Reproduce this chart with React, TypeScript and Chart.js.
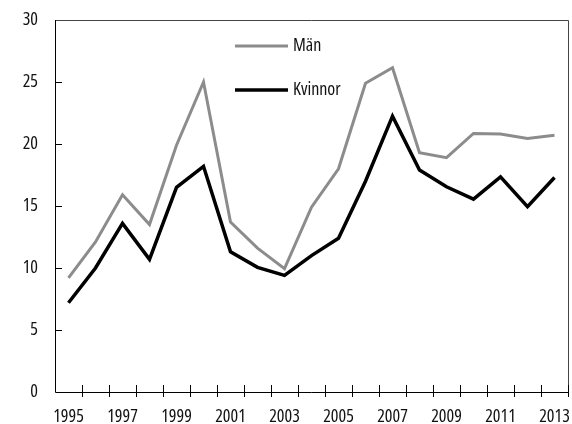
import React, { useEffect, useRef } from "react";
import { Chart, registerables } from "chart.js";

Chart.register(...registerables);

const years = ["1995","1996","1997","1998","1999","2000","2001","2002","2003","2004","2005","2006","2007","2008","2009","2010","2011","2012","2013"];
const manValues = [9.2, 12.1, 15.9, 13.5, 19.9, 25.0, 13.7, 11.6, 9.95, 14.9, 18.0, 24.9, 26.15, 19.3, 18.9, 20.85, 20.8, 20.45, 20.7];
const kvinnorValues = [7.2, 10.0, 13.6, 10.7, 16.5, 18.2, 11.3, 10.05, 9.4, 11.0, 12.4, 17.0, 22.25, 17.9, 16.55, 15.55, 17.35, 14.95, 17.3];
const yTicks = [0, 5, 10, 15, 20, 25, 30];

const FAMILY = "'Open Sans', sans-serif";
const TICK_FONT = { family: FAMILY, size: 18, weight: "condensed" as any };

const framePlugin = {
  id: "framePlugin",
  afterDraw(chart: any) {
    const { ctx, chartArea } = chart;
    const { left, right, top, bottom } = chartArea;
    ctx.save();
    ctx.strokeStyle = "#444";
    ctx.lineWidth = 1;
    ctx.beginPath();
    ctx.moveTo(left, top + 0.5);
    ctx.lineTo(right + 0.5, top + 0.5);
    ctx.lineTo(right + 0.5, bottom);
    ctx.stroke();
    ctx.strokeStyle = "#000";
    ctx.beginPath();
    ctx.moveTo(left + 0.5, top);
    ctx.lineTo(left + 0.5, bottom + 0.5);
    ctx.lineTo(right, bottom + 0.5);
    ctx.stroke();
    const ys = chart.scales.y;
    ctx.beginPath();
    yTicks.forEach((v) => {
      if (v === 0 || v === 30) return;
      const py = Math.round(ys.getPixelForValue(v)) + 0.5;
      ctx.moveTo(left, py);
      ctx.lineTo(left + 7, py);
    });
    ctx.stroke();
    const n = years.length;
    const w = (right - left) / n;
    ctx.beginPath();
    for (let i = 1; i <= n; i++) {
      const px = Math.round(left + i * w) + 0.5;
      ctx.moveTo(px, bottom - 7);
      ctx.lineTo(px, bottom + 5);
    }
    ctx.stroke();
    const lx = left + 180;
    let ly = top + 26;
    chart.data.datasets.forEach((ds: any) => {
      ctx.strokeStyle = ds.borderColor;
      ctx.lineWidth = ds.borderWidth;
      ctx.beginPath();
      ctx.moveTo(lx, ly);
      ctx.lineTo(lx + 53, ly);
      ctx.stroke();
      ctx.fillStyle = "#111";
      ctx.font = "condensed 18px " + FAMILY;
      ctx.textBaseline = "middle";
      ctx.textAlign = "left";
      ctx.fillText(ds.label, lx + 58, ly);
      ly += 44;
    });
    ctx.restore();
  },
};

export default function App() {
  const ref = useRef<HTMLCanvasElement>(null);
  useEffect(() => {
    document.body.style.margin = "0";
    const chart = new Chart(ref.current!, {
      type: "line",
      data: {
        labels: years,
        datasets: [
          { label: "Män", data: manValues, borderColor: "#8c8c8c", borderWidth: 3, pointRadius: 0, tension: 0, fill: false },
          { label: "Kvinnor", data: kvinnorValues, borderColor: "#000", borderWidth: 3.5, pointRadius: 0, tension: 0, fill: false },
        ],
      },
      options: {
        animation: false,
        responsive: false,
        layout: { padding: { top: 20, right: 4, left: 0, bottom: 0 } },
        plugins: { legend: { display: false }, tooltip: { enabled: false } },
        scales: {
          x: {
            type: "category",
            offset: true,
            grid: { display: false, drawTicks: false },
            border: { display: false },
            ticks: {
              autoSkip: false,
              maxRotation: 0,
              padding: 14,
              color: "#111",
              font: TICK_FONT,
              callback: (_v: any, i: number) => (i % 2 === 0 ? years[i] : ""),
            },
            afterFit: (s: any) => { s.height = 32; s.paddingLeft = 0; s.paddingRight = 0; },
          },
          y: {
            min: 0,
            max: 30,
            grid: { display: false, drawTicks: false },
            border: { display: false },
            ticks: {
              stepSize: 5,
              padding: 17,
              color: "#111",
              font: TICK_FONT,
            },
            afterFit: (s: any) => { s.width = 55; s.paddingTop = 0; s.paddingBottom = 0; },
          },
        },
      },
      plugins: [framePlugin],
    } as any);
    return () => chart.destroy();
  }, []);
  return (
    <div style={{ position: "fixed", left: 0, top: 0, width: 572, height: 424 }}>
      <canvas ref={ref} width={572} height={424} style={{ display: "block" }} />
    </div>
  );
}
